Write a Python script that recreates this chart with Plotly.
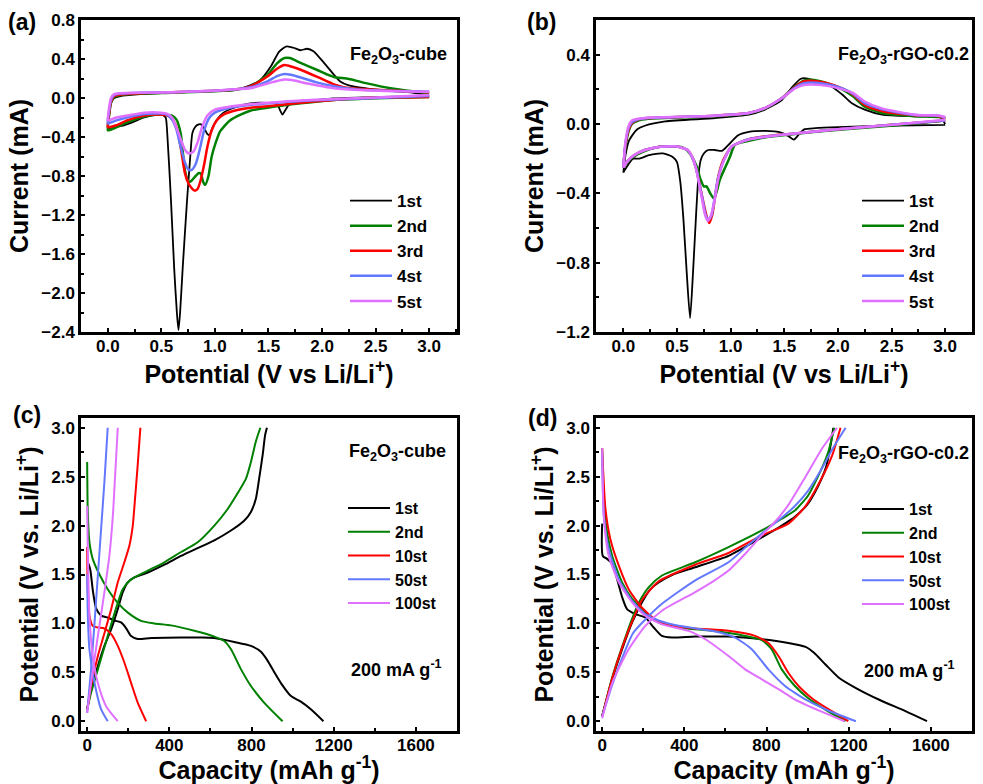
import plotly.graph_objects as go

W, H = 983, 784
FONT = "Liberation Sans, Arial, sans-serif"

NAMES_CV = ["1st", "2nd", "3rd", "4st", "5st"]
NAMES_GC = ["1st", "2nd", "10st", "50st", "100st"]
COLORS = ["#000000", "#008000", "#FF0000", "#6478FF", "#E070FF"]

# ---------------- Panel (a): CV of Fe2O3-cube  (V, mA) ----------------
A1_CATH = [(3.0,0.02),(2.7,0.015),(2.42,0.007),(2.1,-0.005),(1.95,-0.02),(1.8,-0.035),(1.74,-0.048),
           (1.69,-0.07),(1.66,-0.12),(1.63,-0.17),(1.61,-0.13),(1.58,-0.06),(1.49,-0.05),(1.33,-0.055),
           (1.18,-0.1),(1.08,-0.15),(1.02,-0.22),(0.98,-0.3),(0.95,-0.38),(0.93,-0.37),(0.9,-0.31),
           (0.87,-0.27),(0.85,-0.27),(0.82,-0.29),(0.79,-0.36),(0.77,-0.6),(0.74,-1.05),(0.70,-1.73),
           (0.675,-2.2),(0.66,-2.38),(0.645,-2.2),(0.62,-1.75),(0.59,-1.05),(0.555,-0.36),(0.54,-0.2),
           (0.5,-0.165),(0.46,-0.17),(0.34,-0.2),(0.25,-0.24),(0.15,-0.28),(0.05,-0.3),(0.01,-0.31)]
A1_ANOD = [(0.0,-0.31),(0.01,-0.2),(0.03,-0.05),(0.06,0.0),(0.12,0.02),(0.24,0.035),(0.5,0.05),
           (0.86,0.065),(1.18,0.08),(1.33,0.13),(1.42,0.18),(1.52,0.32),(1.60,0.475),(1.67,0.53),
           (1.75,0.51),(1.80,0.49),(1.86,0.505),(1.92,0.48),(1.98,0.41),(2.05,0.32),(2.11,0.24),
           (2.17,0.17),(2.25,0.13),(2.4,0.1),(2.6,0.075),(2.8,0.06),(3.0,0.03)]
A2_CATH = [(3.0,0.01),(2.6,0.0),(2.11,-0.02),(1.8,-0.055),(1.49,-0.1),(1.33,-0.13),(1.24,-0.17),
           (1.14,-0.23),(1.05,-0.34),(1.01,-0.45),(0.97,-0.6),(0.94,-0.8),(0.91,-0.89),(0.89,-0.86),
           (0.87,-0.78),(0.85,-0.77),(0.82,-0.8),(0.78,-0.85),(0.755,-0.86),(0.72,-0.74),(0.70,-0.55),
           (0.68,-0.36),(0.64,-0.22),(0.6,-0.18),(0.55,-0.175),(0.46,-0.17),(0.34,-0.19),(0.18,-0.25),
           (0.08,-0.3),(0.01,-0.33)]
A2_ANOD = [(0.0,-0.33),(0.01,-0.2),(0.03,-0.05),(0.06,0.01),(0.12,0.03),(0.3,0.045),(0.6,0.055),
           (1.0,0.07),(1.2,0.085),(1.33,0.116),(1.49,0.236),(1.58,0.355),(1.65,0.41),(1.70,0.41),
           (1.80,0.36),(1.95,0.29),(2.05,0.24),(2.11,0.215),(2.25,0.195),(2.42,0.15),(2.64,0.1),
           (2.8,0.075),(3.0,0.05)]
A3_CATH = [(3.0,0.01),(2.4,0.0),(2.11,-0.02),(1.8,-0.05),(1.49,-0.085),(1.33,-0.1),(1.18,-0.13),
           (1.08,-0.17),(1.02,-0.225),(0.97,-0.33),(0.93,-0.5),(0.9,-0.68),(0.87,-0.83),(0.84,-0.93),
           (0.81,-0.95),(0.78,-0.92),(0.755,-0.88),(0.72,-0.77),(0.69,-0.57),(0.66,-0.38),(0.63,-0.27),
           (0.59,-0.2),(0.54,-0.175),(0.46,-0.17),(0.34,-0.18),(0.18,-0.23),(0.08,-0.28),(0.01,-0.3)]
A3_ANOD = [(0.0,-0.3),(0.01,-0.18),(0.03,-0.04),(0.06,0.02),(0.12,0.035),(0.3,0.05),(0.6,0.06),
           (1.0,0.075),(1.2,0.09),(1.33,0.12),(1.49,0.22),(1.58,0.3),(1.65,0.338),(1.72,0.32),
           (1.80,0.29),(1.95,0.22),(2.11,0.14),(2.26,0.1),(2.5,0.085),(2.8,0.07),(3.0,0.06)]
A4_CATH = [(3.0,0.02),(2.5,0.0),(2.0,-0.02),(1.6,-0.045),(1.3,-0.075),(1.1,-0.11),(1.0,-0.15),
           (0.95,-0.2),(0.9,-0.33),(0.86,-0.52),(0.82,-0.68),(0.78,-0.74),(0.75,-0.73),(0.72,-0.66),
           (0.68,-0.5),(0.64,-0.32),(0.6,-0.22),(0.55,-0.17),(0.5,-0.16),(0.34,-0.165),(0.18,-0.2),
           (0.08,-0.23),(0.01,-0.26)]
A4_ANOD = [(0.0,-0.26),(0.01,-0.15),(0.03,-0.02),(0.06,0.03),(0.12,0.045),(0.3,0.055),(0.6,0.06),
           (1.0,0.075),(1.2,0.09),(1.33,0.11),(1.49,0.17),(1.58,0.225),(1.65,0.246),(1.72,0.235),
           (1.80,0.21),(1.95,0.16),(2.11,0.12),(2.3,0.09),(2.6,0.075),(3.0,0.065)]
A5_CATH = [(3.0,0.03),(2.5,0.005),(2.0,-0.015),(1.6,-0.04),(1.2,-0.08),(1.0,-0.12),(0.93,-0.18),
           (0.88,-0.3),(0.84,-0.45),(0.80,-0.55),(0.76,-0.57),(0.72,-0.53),(0.68,-0.42),(0.64,-0.3),
           (0.6,-0.2),(0.55,-0.16),(0.5,-0.15),(0.34,-0.15),(0.18,-0.18),(0.08,-0.2),(0.01,-0.23)]
A5_ANOD = [(0.0,-0.23),(0.01,-0.12),(0.03,0.0),(0.06,0.04),(0.12,0.05),(0.3,0.055),(0.6,0.06),
           (1.0,0.075),(1.2,0.09),(1.33,0.1),(1.5,0.15),(1.58,0.175),(1.65,0.19),(1.72,0.185),
           (1.8,0.165),(1.95,0.13),(2.11,0.1),(2.4,0.08),(2.7,0.07),(3.0,0.065)]

# ---------------- Panel (b): CV of Fe2O3-rGO-c0.2 ----------------
B1_CATH = [(3.0,-0.005),(2.41,-0.01),(2.0,-0.018),(1.79,-0.024),(1.69,-0.03),(1.65,-0.05),(1.59,-0.09),
           (1.54,-0.07),(1.47,-0.05),(1.41,-0.043),(1.32,-0.04),(1.17,-0.045),(1.07,-0.065),(0.98,-0.12),
           (0.92,-0.155),(0.85,-0.15),(0.79,-0.15),(0.75,-0.17),(0.72,-0.21),(0.70,-0.3),(0.68,-0.5),
           (0.65,-0.85),(0.622,-1.12),(0.59,-0.85),(0.56,-0.55),(0.53,-0.33),(0.5,-0.22),(0.46,-0.19),
           (0.37,-0.17),(0.24,-0.18),(0.15,-0.2),(0.09,-0.2),(0.04,-0.24),(0.0,-0.28)]
B1_ANOD = [(0.0,-0.28),(0.02,-0.18),(0.05,-0.1),(0.078,-0.07),(0.13,-0.03),(0.2,-0.01),(0.39,0.015),
           (0.855,0.034),(1.17,0.054),(1.32,0.083),(1.48,0.14),(1.57,0.21),(1.65,0.26),(1.69,0.265),
           (1.79,0.25),(1.91,0.228),(2.04,0.17),(2.13,0.12),(2.25,0.083),(2.41,0.054),(2.72,0.044),
           (2.95,0.04),(3.0,0.0)]
B2_CATH = [(3.0,0.02),(2.49,-0.01),(1.87,-0.04),(1.56,-0.06),(1.34,-0.075),(1.15,-0.1),(1.04,-0.12),
           (0.995,-0.187),(0.95,-0.25),(0.90,-0.32),(0.87,-0.39),(0.845,-0.43),(0.81,-0.40),(0.775,-0.36),
           (0.75,-0.36),(0.72,-0.32),(0.68,-0.24),(0.62,-0.17),(0.55,-0.135),(0.45,-0.13),(0.35,-0.13),
           (0.25,-0.145),(0.15,-0.17),(0.05,-0.21),(0.0,-0.25)]
B2_ANOD = [(0.0,-0.25),(0.02,-0.13),(0.05,-0.04),(0.08,0.0),(0.14,0.02),(0.23,0.03),(0.855,0.045),
           (1.17,0.062),(1.32,0.09),(1.48,0.15),(1.6,0.215),(1.68,0.25),(1.75,0.255),(1.9,0.235),
           (2.04,0.2),(2.14,0.16),(2.25,0.1),(2.41,0.063),(2.72,0.045),(2.95,0.04),(3.0,0.03)]
B3_CATH = [(3.0,0.02),(2.5,-0.005),(2.0,-0.03),(1.6,-0.055),(1.48,-0.06),(1.17,-0.087),(1.01,-0.13),
           (0.93,-0.21),(0.886,-0.30),(0.855,-0.42),(0.83,-0.52),(0.80,-0.571),(0.775,-0.53),
           (0.745,-0.45),(0.715,-0.36),(0.68,-0.26),(0.64,-0.19),(0.6,-0.15),(0.5,-0.13),(0.4,-0.13),
           (0.3,-0.135),(0.2,-0.15),(0.1,-0.18),(0.03,-0.22),(0.0,-0.25)]
B3_ANOD = [(0.0,-0.25),(0.02,-0.12),(0.05,-0.03),(0.08,0.005),(0.14,0.025),(0.23,0.034),(0.855,0.048),
           (1.17,0.063),(1.32,0.092),(1.48,0.15),(1.6,0.213),(1.68,0.245),(1.75,0.25),(1.9,0.235),
           (2.04,0.205),(2.14,0.17),(2.25,0.11),(2.41,0.075),(2.72,0.05),(2.95,0.045),(3.0,0.03)]
B4_CATH = [(3.0,0.02),(2.5,-0.005),(2.0,-0.03),(1.6,-0.055),(1.48,-0.062),(1.17,-0.088),(1.01,-0.13),
           (0.93,-0.22),(0.88,-0.32),(0.85,-0.43),(0.82,-0.53),(0.79,-0.555),(0.765,-0.52),(0.74,-0.44),
           (0.71,-0.35),(0.68,-0.26),(0.64,-0.19),(0.6,-0.15),(0.5,-0.13),(0.4,-0.13),(0.3,-0.135),
           (0.2,-0.15),(0.1,-0.18),(0.03,-0.22),(0.0,-0.25)]
B4_ANOD = [(0.0,-0.25),(0.02,-0.11),(0.05,-0.02),(0.08,0.01),(0.14,0.027),(0.23,0.035),(0.855,0.048),
           (1.17,0.063),(1.32,0.092),(1.48,0.15),(1.6,0.21),(1.68,0.235),(1.75,0.24),(1.9,0.23),
           (2.04,0.205),(2.14,0.175),(2.25,0.12),(2.41,0.085),(2.72,0.052),(2.95,0.047),(3.0,0.035)]
B5_CATH = [(3.0,0.025),(2.5,-0.005),(2.0,-0.03),(1.6,-0.055),(1.48,-0.062),(1.17,-0.09),(1.01,-0.13),
           (0.93,-0.22),(0.88,-0.33),(0.85,-0.44),(0.815,-0.53),(0.787,-0.56),(0.76,-0.52),(0.735,-0.44),
           (0.705,-0.34),(0.675,-0.25),(0.64,-0.185),(0.6,-0.15),(0.5,-0.13),(0.4,-0.13),(0.3,-0.135),
           (0.2,-0.15),(0.1,-0.18),(0.03,-0.22),(0.0,-0.25)]
B5_ANOD = [(0.0,-0.25),(0.02,-0.1),(0.05,-0.01),(0.08,0.02),(0.14,0.03),(0.23,0.036),(0.855,0.048),
           (1.17,0.063),(1.32,0.092),(1.48,0.15),(1.6,0.205),(1.68,0.225),(1.75,0.228),(1.9,0.22),
           (2.04,0.2),(2.14,0.18),(2.25,0.13),(2.41,0.09),(2.72,0.054),(2.95,0.048),(3.0,0.04)]

# ---------------- Panel (c): GCD of Fe2O3-cube  (mAh/g, V) ----------------
C1_DIS = [(3,1.62),(8,1.6),(16,1.54),(28,1.33),(44,1.15),(68,1.08),(100,1.06),(133,1.03),(165,1.01),
          (190,0.95),(214,0.87),(246,0.84),(311,0.85),(457,0.855),(554,0.855),(619,0.85),(716,0.81),
          (797,0.77),(846,0.71),(878,0.62),(911,0.5),(943,0.39),(992,0.257),(1040,0.2),(1090,0.12),(1150,0.0)]
C1_CHG = [(0,0.12),(19,0.325),(52,0.565),(84,0.77),(117,0.94),(149,1.146),(173,1.317),(198,1.42),
          (230,1.47),(295,1.52),(376,1.60),(457,1.69),(538,1.77),(619,1.85),(700,1.95),(764,2.05),
          (797,2.14),(821,2.275),(837,2.48),(854,2.72),(866,2.925),(875,3.0)]
C2_DIS = [(0,2.65),(3,2.14),(11,1.83),(27,1.66),(60,1.5),(100,1.35),(149,1.21),(198,1.11),(262,1.026),
          (327,1.0),(408,0.98),(522,0.924),(619,0.865),(667,0.82),(700,0.735),(749,0.53),(797,0.36),
          (862,0.188),(951,0.0)]
C2_CHG = [(0,0.12),(19,0.29),(52,0.53),(100,0.87),(149,1.21),(173,1.35),(214,1.45),(295,1.54),
          (376,1.625),(457,1.73),(538,1.83),(619,2.0),(684,2.17),(732,2.33),(773,2.48),(797,2.65),
          (821,2.86),(843,3.0)]
C3_DIS = [(0,1.78),(3,1.35),(11,1.08),(27,0.975),(52,0.958),(84,0.948),(117,0.89),(149,0.77),
          (181,0.6),(214,0.39),(246,0.19),(287,0.0)]
C3_CHG = [(0,0.12),(19,0.36),(52,0.667),(84,0.9),(117,1.146),(149,1.42),(181,1.625),(206,1.8),
          (222,2.0),(233,2.275),(246,2.62),(259,3.0)]
C4_DIS = [(0,1.5),(3,1.1),(11,0.735),(36,0.39),(68,0.12),(100,0.0)]
C4_CHG = [(0,0.085),(19,0.53),(36,1.01),(52,1.49),(68,1.97),(84,2.45),(100,3.0)]
C5_DIS = [(0,2.2),(3,1.76),(11,1.08),(27,0.667),(52,0.39),(92,0.154),(149,0.0)]
C5_CHG = [(0,0.085),(19,0.39),(52,0.87),(84,1.32),(108,1.69),(125,2.1),(136,2.51),(149,3.0)]

# ---------------- Panel (d): GCD of Fe2O3-rGO-c0.2 ----------------
D1_DIS = [(0,2.02),(3,1.69),(24,1.66),(49,1.61),(73,1.45),(97,1.27),(121,1.146),(162,1.095),
          (210,1.06),(251,0.958),(291,0.872),(340,0.855),(453,0.865),(615,0.865),(777,0.838),
          (906,0.8),(990,0.76),(1031,0.70),(1087,0.58),(1152,0.445),(1233,0.342),(1346,0.222),
          (1476,0.103),(1581,0.0)]
D1_CHG = [(0,0.05),(49,0.43),(97,0.735),(146,1.01),(194,1.215),(235,1.35),(275,1.42),(340,1.495),
          (453,1.574),(615,1.69),(777,1.88),(874,2.0),(938,2.09),(1000,2.22),(1050,2.4),(1090,2.6),
          (1110,2.8),(1125,3.0)]
D2_DIS = [(0,2.79),(8,2.27),(24,1.93),(49,1.69),(97,1.42),(146,1.25),(210,1.11),(275,1.01),
          (372,0.958),(534,0.924),(696,0.872),(777,0.83),(825,0.735),(874,0.53),(938,0.36),
          (1000,0.24),(1100,0.1),(1185,0.0)]
D2_CHG = [(0,0.05),(49,0.45),(97,0.76),(146,1.05),(178,1.21),(227,1.37),(291,1.49),(453,1.625),
          (615,1.78),(777,1.95),(874,2.07),(938,2.155),(1000,2.3),(1050,2.5),(1100,2.75),(1130,3.0)]
D3_DIS = [(0,2.79),(16,2.17),(40,1.86),(81,1.59),(129,1.35),(194,1.16),(259,1.04),(324,0.98),
          (453,0.948),(615,0.924),(744,0.872),(809,0.80),(858,0.667),(906,0.496),(960,0.35),
          (1030,0.22),(1120,0.1),(1198,0.0)]
D3_CHG = [(0,0.05),(49,0.44),(97,0.75),(146,1.02),(194,1.24),(275,1.43),(453,1.6),(615,1.72),
          (777,1.9),(906,2.02),(990,2.2),(1060,2.45),(1120,2.72),(1160,3.0)]
D4_DIS = [(0,2.75),(8,2.1),(32,1.76),(81,1.45),(146,1.23),(210,1.095),(275,1.03),(372,0.975),
          (534,0.924),(647,0.855),(728,0.735),(809,0.53),(890,0.36),(938,0.29),(1000,0.21),
          (1100,0.11),(1235,0.0)]
D4_CHG = [(0,0.05),(50,0.38),(100,0.66),(150,0.9),(210,1.04),(291,1.2),(453,1.44),(615,1.625),
          (700,1.78),(777,1.92),(874,2.08),(938,2.2),(1000,2.35),(1060,2.55),(1120,2.78),(1185,3.0)]
D5_DIS = [(0,2.79),(8,2.1),(32,1.69),(81,1.42),(146,1.215),(210,1.078),(291,0.99),(421,0.924),
          (502,0.838),(615,0.667),(696,0.53),(777,0.428),(874,0.308),(938,0.222),(1000,0.16),
          (1100,0.07),(1180,0.0)]
D5_CHG = [(0,0.03),(49,0.39),(129,0.735),(210,0.975),(291,1.13),(453,1.32),(540,1.43),(615,1.54),
          (700,1.72),(777,1.9),(850,2.06),(909,2.22),(990,2.5),(1071,2.79),(1143,3.0)]

PANEL_A = [(A1_CATH, A1_ANOD), (A2_CATH, A2_ANOD), (A3_CATH, A3_ANOD), (A4_CATH, A4_ANOD), (A5_CATH, A5_ANOD)]
PANEL_B = [(B1_CATH, B1_ANOD), (B2_CATH, B2_ANOD), (B3_CATH, B3_ANOD), (B4_CATH, B4_ANOD), (B5_CATH, B5_ANOD)]
PANEL_C = [(C1_DIS, C1_CHG), (C2_DIS, C2_CHG), (C3_DIS, C3_CHG), (C4_DIS, C4_CHG), (C5_DIS, C5_CHG)]
PANEL_D = [(D1_DIS, D1_CHG), (D2_DIS, D2_CHG), (D3_DIS, D3_CHG), (D4_DIS, D4_CHG), (D5_DIS, D5_CHG)]

fig = go.Figure()


def add_panel(panel, names, ax, legend, loop, widths):
    for i, (p1, p2) in enumerate(panel):
        if loop:
            pts = list(p1) + list(p2)
            xs = [p[0] for p in pts]
            ys = [p[1] for p in pts]
        else:
            xs = [p[0] for p in p1] + [None] + [p[0] for p in p2]
            ys = [p[1] for p in p1] + [None] + [p[1] for p in p2]
        fig.add_trace(go.Scatter(
            x=xs, y=ys, mode="lines", name=names[i],
            line=dict(color=COLORS[i], width=widths[i], shape="spline", smoothing=0.6),
            xaxis="x" + ax, yaxis="y" + ax, legend=legend, connectgaps=False,
        ))


CV_W = [1.8, 2.5, 2.5, 2.5, 2.5]
GC_W = [2, 2, 2, 2, 2]
add_panel(PANEL_A, NAMES_CV, "", "legend", True, CV_W)
add_panel(PANEL_B, NAMES_CV, "2", "legend2", True, CV_W)
add_panel(PANEL_C, NAMES_GC, "3", "legend3", False, GC_W)
add_panel(PANEL_D, NAMES_GC, "4", "legend4", False, GC_W)


def px_x(p):
    return p / W


def px_y(p):
    return 1 - p / H


TICKFONT = dict(family=FONT, size=17, color="black", weight="bold")
TITLEFONT = dict(family=FONT, size=25, color="black", weight="bold")


def xaxis(dom, rng, dtick, title, anchor, fmt):
    return dict(domain=dom, range=rng, dtick=dtick, tick0=0, anchor=anchor, automargin=False,
                showline=True, linewidth=2.5, linecolor="black", mirror=True,
                ticks="inside", ticklen=4, tickwidth=2, tickcolor="black", ticklabelstandoff=-3,
                minor=dict(ticks="inside", ticklen=3, tickwidth=1.5, tickcolor="black", dtick=dtick / 2),
                showgrid=False, zeroline=False, tickfont=TICKFONT, tickformat=fmt,
                title=dict(text=title, font=TITLEFONT, standoff=4))


def yaxis(dom, rng, dtick, title, anchor, fmt):
    return dict(domain=dom, range=rng, dtick=dtick, tick0=0, anchor=anchor, automargin=False,
                showline=True, linewidth=2.5, linecolor="black", mirror=True,
                ticks="inside", ticklen=4, tickwidth=2, tickcolor="black",
                minor=dict(ticks="inside", ticklen=3, tickwidth=1.5, tickcolor="black", dtick=dtick / 2),
                showgrid=False, zeroline=False, tickfont=TICKFONT, tickformat=fmt,
                title=dict(text=title, font=TITLEFONT, standoff=6))


XA = [px_x(81), px_x(457)]
XB = [px_x(596), px_x(972)]
YTOP = [px_y(332), px_y(20)]
YBOT = [px_y(731), px_y(418)]

LEG_AB = dict(font=dict(family=FONT, size=17, color="black", weight="bold"),
              bgcolor="rgba(0,0,0,0)", borderwidth=0, itemwidth=42, tracegroupgap=0,
              xanchor="left", yanchor="top", itemclick=False)
LEG_CD = dict(LEG_AB, font=dict(family=FONT, size=16, color="black", weight="bold"))

fig.update_layout(
    width=W, height=H, margin=dict(l=0, r=0, t=0, b=0, autoexpand=False),
    paper_bgcolor="white", plot_bgcolor="white",
    font=dict(family=FONT, color="black"),
    xaxis=xaxis(XA, [-0.25, 3.26], 0.5, "Potential (V vs Li/Li<sup>+</sup>)", "y", ".1f"),
    yaxis=yaxis(YTOP, [-2.4, 0.8], 0.4, "Current (mA)", "x", ".1f"),
    xaxis2=xaxis(XB, [-0.255, 3.25], 0.5, "Potential (V vs Li/Li<sup>+</sup>)", "y2", ".1f"),
    yaxis2=yaxis(YTOP, [-1.2, 0.6], 0.4, "Current (mA)", "x2", ".1f"),
    xaxis3=xaxis(XA, [-30, 1800], 400, "Capacity (mAh g<sup>-1</sup>)", "y3", "d"),
    yaxis3=yaxis(YBOT, [-0.1, 3.1], 0.5, "Potential (V vs. Li/Li<sup>+</sup>)", "x3", ".1f"),
    xaxis4=xaxis(XB, [-30, 1800], 400, "Capacity (mAh g<sup>-1</sup>)", "y4", "d"),
    yaxis4=yaxis(YBOT, [-0.1, 3.1], 0.5, "Potential (V vs. Li/Li<sup>+</sup>)", "x4", ".1f"),
    legend=dict(LEG_AB, x=px_x(345), y=px_y(183)),
    legend2=dict(LEG_AB, x=px_x(857), y=px_y(183)),
    legend3=dict(LEG_CD, x=px_x(343), y=px_y(491)),
    legend4=dict(LEG_CD, x=px_x(857), y=px_y(492)),
)

ANN_FONT = dict(family=FONT, size=18, color="black", weight="bold")
LAB_FONT = dict(family=FONT, size=23, color="black", weight="bold")
annots = [
    ("(a)", 6, 22, "left", LAB_FONT),
    ("(b)", 525, 22, "left", LAB_FONT),
    ("(c)", 11, 415, "left", LAB_FONT),
    ("(d)", 526, 418, "left", LAB_FONT),
    ("Fe<sub>2</sub>O<sub>3</sub>-cube", 449, 56, "right", ANN_FONT),
    ("Fe<sub>2</sub>O<sub>3</sub>-rGO-c0.2", 971, 56, "right", ANN_FONT),
    ("Fe<sub>2</sub>O<sub>3</sub>-cube", 448, 453, "right", ANN_FONT),
    ("200 mA g<sup>-1</sup>", 349, 668, "left", ANN_FONT),
    ("Fe<sub>2</sub>O<sub>3</sub>-rGO-c0.2", 971, 454, "right", ANN_FONT),
    ("200 mA g<sup>-1</sup>", 862, 669, "left", ANN_FONT),
]
for text, x, y, anc, f in annots:
    fig.add_annotation(text=text, x=px_x(x), y=px_y(y), xref="paper", yref="paper",
                       xanchor=anc, yanchor="middle", showarrow=False, font=f)

fig.write_html("out.html", config={"displayModeBar": False},
               post_script="document.body.style.margin='0';document.body.style.overflow='hidden';")
